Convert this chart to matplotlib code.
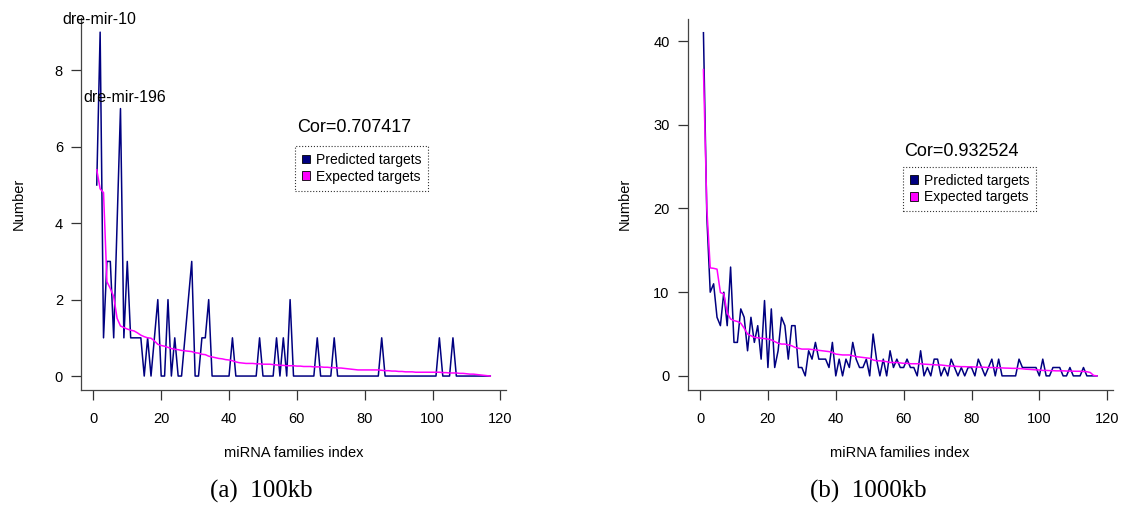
import matplotlib
matplotlib.use("Agg")
import matplotlib.pyplot as plt
from matplotlib.patches import Patch

plt.rcParams['font.family'] = ['Liberation Sans', 'DejaVu Sans']

# ===============================
# DATA
# ===============================

idx = list(range(1, 118))

# 100kb panel
pred_100kb = [5, 9, 1, 3, 3, 1, 4, 7, 1, 3,
              1, 1, 1, 1, 0, 1, 0, 1, 2, 0,
              0, 2, 0, 1, 0, 0, 1, 2, 3, 0,
              0, 1, 1, 2, 0, 0, 0, 0, 0, 0,
              1, 0, 0, 0, 0, 0, 0, 0, 1, 0,
              0, 0, 0, 1, 0, 1, 0, 2, 0, 0,
              0, 0, 0, 0, 0, 1, 0, 0, 0, 0,
              1, 0, 0, 0, 0, 0, 0, 0, 0, 0,
              0, 0, 0, 0, 1, 0, 0, 0, 0, 0,
              0, 0, 0, 0, 0, 0, 0, 0, 0, 0,
              0, 1, 0, 0, 0, 1, 0, 0, 0, 0,
              0, 0, 0, 0, 0, 0, 0]
exp_100kb = [5.4, 4.9, 4.8, 2.47, 2.29, 2.08, 1.51, 1.31, 1.27, 1.23,
             1.2, 1.18, 1.13, 1.07, 1.03, 1.0, 0.99, 0.92, 0.83, 0.8,
             0.78, 0.75, 0.72, 0.7, 0.69, 0.67, 0.66, 0.65, 0.64, 0.61,
             0.6, 0.57, 0.56, 0.52, 0.5, 0.48, 0.46, 0.45, 0.43, 0.42,
             0.4, 0.37, 0.35, 0.34, 0.33, 0.33, 0.33, 0.32, 0.32, 0.31,
             0.31, 0.31, 0.3, 0.29, 0.28, 0.28, 0.27, 0.27, 0.27, 0.26,
             0.26, 0.25, 0.25, 0.25, 0.24, 0.24, 0.24, 0.23, 0.23, 0.22,
             0.22, 0.21, 0.21, 0.2, 0.19, 0.18, 0.17, 0.16, 0.16, 0.16,
             0.16, 0.16, 0.16, 0.16, 0.15, 0.14, 0.14, 0.13, 0.13, 0.12,
             0.12, 0.11, 0.11, 0.11, 0.1, 0.1, 0.1, 0.1, 0.1, 0.1,
             0.1, 0.1, 0.09, 0.09, 0.08, 0.08, 0.08, 0.07, 0.07, 0.06,
             0.05, 0.05, 0.04, 0.03, 0.02, 0.01, 0.0]

# 1000kb panel
pred_1000kb = [41, 19, 10, 11, 7, 6, 10, 6, 13, 4,
               4, 8, 7, 3, 7, 4, 6, 2, 9, 1,
               8, 1, 3, 7, 6, 2, 6, 6, 1, 1,
               0, 3, 2, 4, 2, 2, 2, 1, 4, 0,
               2, 0, 2, 1, 4, 2, 1, 1, 2, 0,
               5, 2, 0, 2, 0, 3, 1, 2, 1, 1,
               2, 1, 1, 0, 3, 0, 1, 0, 2, 2,
               0, 1, 0, 2, 1, 0, 1, 0, 1, 1,
               0, 2, 1, 0, 1, 2, 0, 2, 0, 0,
               0, 0, 0, 2, 1, 1, 1, 1, 1, 0,
               2, 0, 0, 1, 1, 1, 0, 0, 1, 0,
               0, 0, 1, 0, 0, 0, 0]
exp_1000kb = [36.6, 20.0, 12.9, 12.85, 12.75, 9.95, 9.8, 7.5, 6.8, 6.6,
              6.5, 6.3, 5.7, 5.0, 4.8, 4.6, 4.55, 4.5, 4.45, 4.4,
              4.3, 4.1, 3.9, 3.8, 3.8, 3.7, 3.6, 3.4, 3.3, 3.2,
              3.2, 3.2, 3.15, 3.1, 3.05, 3.0, 2.95, 2.9, 2.8, 2.6,
              2.55, 2.5, 2.5, 2.5, 2.4, 2.3, 2.25, 2.2, 2.15, 2.1,
              1.9, 1.8, 1.8, 1.75, 1.7, 1.6, 1.6, 1.6, 1.55, 1.5,
              1.5, 1.45, 1.45, 1.45, 1.45, 1.4, 1.38, 1.35, 1.33, 1.3,
              1.3, 1.25, 1.2, 1.18, 1.15, 1.12, 1.1, 1.1, 1.08, 1.08,
              1.06, 1.05, 1.05, 1.02, 1.0, 1.0, 0.98, 0.96, 0.95, 0.93,
              0.92, 0.9, 0.9, 0.88, 0.85, 0.8, 0.78, 0.75, 0.72, 0.7,
              0.65, 0.65, 0.63, 0.62, 0.6, 0.6, 0.6, 0.58, 0.57, 0.56,
              0.55, 0.55, 0.53, 0.5, 0.4, 0.05, 0.0]

x_ticks = [0, 20, 40, 60, 80, 100, 120]
y_ticks_100kb = [0, 2, 4, 6, 8]
y_ticks_1000kb = [0, 10, 20, 30, 40]

cor_100kb = "Cor=0.707417"
cor_1000kb = "Cor=0.932524"
legend_labels = ["Predicted targets", "Expected targets"]
captions = ["(a)  100kb", "(b)  1000kb"]

PRED_COLOR = "#000080"
EXP_COLOR = "#FF00FF"

# ===============================
# FIGURE
# ===============================

W, H = 1126, 505
fig = plt.figure(figsize=(W / 100, H / 100), dpi=100)


def px_axes(left, top, right, bottom):
    return fig.add_axes([left / W, 1 - bottom / H, (right - left) / W, (bottom - top) / H])


def estilo(ax, yticks, ylim):
    ax.set_xlim(-3.64, 121.64)
    ax.set_ylim(*ylim)
    ax.set_xticks(x_ticks)
    ax.set_yticks(yticks)
    for s in ["top", "right"]:
        ax.spines[s].set_visible(False)
    for s in ["left", "bottom"]:
        ax.spines[s].set_color("#444444")
        ax.spines[s].set_linewidth(0.9)
    ax.tick_params(direction="out", length=7, width=0.9, color="#333333",
                   labelsize=10.5)
    ax.tick_params(axis="x", pad=9)
    ax.tick_params(axis="y", pad=6)
    ax.text(0.5, -0.17, "miRNA families index", transform=ax.transAxes,
            ha="center", va="center", fontsize=10.5)
    ax.text(-0.147, 0.5, "Number", transform=ax.transAxes, rotation=90,
            ha="center", va="center", fontsize=10.5)


def legenda(ax, anchor):
    handles = [Patch(facecolor=PRED_COLOR, edgecolor="black", linewidth=0.6),
               Patch(facecolor=EXP_COLOR, edgecolor="black", linewidth=0.6)]
    leg = ax.legend(handles, legend_labels, loc="upper left",
                    bbox_to_anchor=anchor, bbox_transform=ax.transData,
                    fontsize=10, frameon=True, fancybox=False,
                    handlelength=0.6, handleheight=0.6, handletextpad=0.4,
                    labelspacing=0.2, borderpad=0.5, borderaxespad=0)
    fr = leg.get_frame()
    fr.set_edgecolor("black")
    fr.set_linestyle(":")
    fr.set_linewidth(0.8)


# ===============================
# (a) 100kb
# ===============================

ax1 = px_axes(81, 18.4, 506, 389.8)
ax1.plot(idx, pred_100kb, color=PRED_COLOR, lw=1.1)
ax1.plot(idx, exp_100kb, color=EXP_COLOR, lw=1.1)
estilo(ax1, y_ticks_100kb, (-0.36, 9.36))
ax1.text(1.7, 9.32, "dre-mir-10", ha="center", va="center", fontsize=11.5)
ax1.text(9.35, 7.28, "dre-mir-196", ha="center", va="center", fontsize=11.5)
ax1.text(60, 6.5, cor_100kb, ha="left", va="center", fontsize=13)
legenda(ax1, (59.5, 6.02))

# ===============================
# (b) 1000kb
# ===============================

ax2 = px_axes(687.7, 19, 1112.8, 389.6)
ax2.plot(idx, pred_1000kb, color=PRED_COLOR, lw=1.1)
ax2.plot(idx, exp_1000kb, color=EXP_COLOR, lw=1.1)
estilo(ax2, y_ticks_1000kb, (-1.64, 42.64))
ax2.text(60, 26.8, cor_1000kb, ha="left", va="center", fontsize=13)
legenda(ax2, (59.8, 25.0))

# legendas das subfiguras
fig.text(261 / W, 1 - 491 / H, captions[0], ha="center", va="center",
         fontsize=18, family="Liberation Serif")
fig.text(868 / W, 1 - 491 / H, captions[1], ha="center", va="center",
         fontsize=18, family="Liberation Serif")

fig.savefig("out.png", dpi=100)
